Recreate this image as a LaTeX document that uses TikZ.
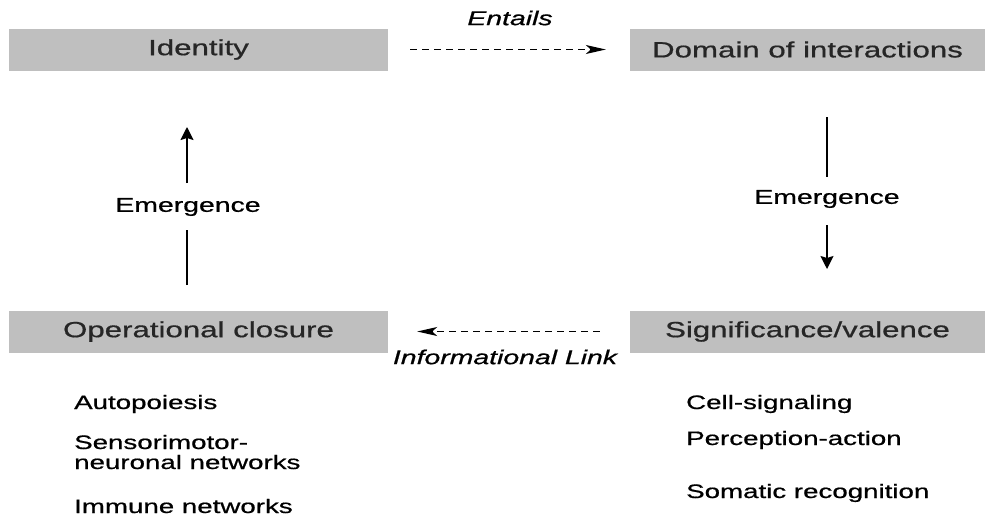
\documentclass[tikz,border=0pt]{standalone}
\usepackage{fontspec}
\setmainfont{Liberation Sans}[FakeBold=0.6]
\usetikzlibrary{arrows.meta}
\newcommand\strx[1]{\scalebox{1.42}[1]{#1}}
\begin{document}
\begin{tikzpicture}[x=1pt,y=-1pt,
  box/.style={fill=black!25,draw=none,minimum height=42pt,inner sep=0pt,
    font=\fontsize{22}{24}\selectfont,text=black!85},
  lbl/.style={inner sep=0pt,font=\fontsize{20}{22}\selectfont},
  itl/.style={inner sep=0pt,font=\fontsize{20}{22}\selectfont\itshape},
  item/.style={inner sep=0pt,anchor=base west,font=\fontsize{19.5}{22}\selectfont},
  htip/.style={-{Stealth[length=20pt,width=9pt,inset=5pt]}},
  vtip/.style={-{Stealth[length=13pt,width=13pt,inset=2pt]}},
  dashline/.style={dash pattern=on 7pt off 5pt},
  conn/.style={line width=1.3pt}]
\useasboundingbox (0,0) rectangle (993,517);
% boxes
\node[box,minimum width=379pt] (id) at (198.5,49.5) {\strx{Identity}};
\node[box,minimum width=355pt] (dom) at (807.5,49.5) {\strx{Domain of interactions}};
\node[box,minimum width=379pt] (op) at (198.5,331.5) {\strx{Operational closure}};
\node[box,minimum width=355pt] (sig) at (807.5,331.5) {\strx{Significance/valence}};
% labels
\node[itl] (ent) at (510,18) {\strx{Entails}};
\node[itl] (inf) at (505,357) {\strx{Informational Link}};
\node[lbl] (em1) at (188,207) {\strx{Emergence}};
\node[lbl] (em2) at (827,199) {\strx{Emergence}};
% horizontal dashed connectors
\draw[conn,dashline,htip,shorten <=22pt,shorten >=24pt] (id.east) -- (dom.west);
\draw[conn,dashline,htip,shorten <=30pt,shorten >=29pt] (sig.west) -- (op.east);
% vertical connectors
\coordinate (l1) at (187,285);
\coordinate (l2) at (187,230);
\coordinate (l3) at (187,183);
\coordinate (l4) at (187,127);
\coordinate (r1) at (827,117);
\coordinate (r2) at (827,177);
\coordinate (r3) at (827,225);
\coordinate (r4) at (827,269);
\draw[conn] (l1) -- (l2);
\draw[conn,vtip] (l3) -- (l4);
\draw[conn] (r1) -- (r2);
\draw[conn,vtip] (r3) -- (r4);
% lists
\node[item] (a1) at (74,409) {\strx{Autopoiesis}};
\node[item] (a2) at (74,449) {\strx{Sensorimotor-}};
\node[item] (a3) at (74,469) {\strx{neuronal networks}};
\node[item] (a4) at (74,513) {\strx{Immune networks}};
\node[item] (b1) at (686,409) {\strx{Cell-signaling}};
\node[item] (b2) at (686,445) {\strx{Perception-action}};
\node[item] (b3) at (686,498) {\strx{Somatic recognition}};
\end{tikzpicture}
\end{document}
